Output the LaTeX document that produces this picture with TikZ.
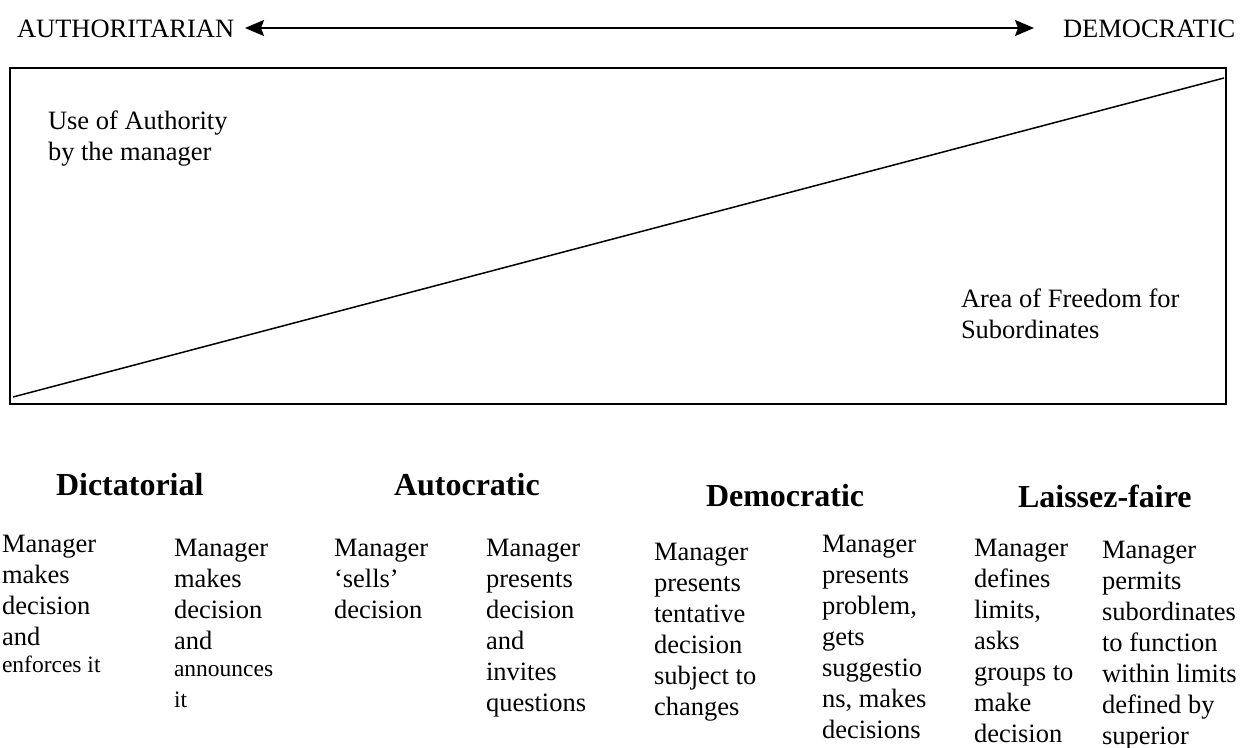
\documentclass[tikz,border=0pt]{standalone}
\usepackage{fontspec}
\setmainfont{Liberation Serif}
\usetikzlibrary{arrows.meta}
\tikzset{
  txt/.style={inner sep=0pt, outer sep=0pt, align=left, anchor=north west, font=\fontsize{26.5}{31}\selectfont},
  head/.style={inner sep=0pt, outer sep=0pt, anchor=base west, font=\fontsize{32}{38}\selectfont\bfseries},
  lbl/.style={inner sep=0pt, outer sep=0pt, anchor=base west, font=\fontsize{26.5}{31}\selectfont},
  frame/.style={draw=black, line width=1.5pt},
  dbl/.style={line width=2pt, {Stealth[length=19pt,width=16pt,inset=3pt]}-{Stealth[length=19pt,width=16pt,inset=3pt]}}
}
\newcommand{\smalltxt}{\fontsize{23.5}{27}\selectfont}
\begin{document}
\begin{tikzpicture}[x=1pt,y=-1pt]
\useasboundingbox (0,0) rectangle (1249,747);
% top scale
\node[lbl] (auth) at (17,37) {AUTHORITARIAN};
\node[lbl] (demo) at (1063,37) {DEMOCRATIC};
\coordinate (al) at (245,28);
\coordinate (ar) at (1034,28);
\draw[dbl] (al) -- (ar);
% box
\coordinate (b1) at (10,68);
\coordinate (b2) at (1226,404);
\draw[frame] (b1) rectangle (b2);
\coordinate (d1) at (13,397);
\coordinate (d2) at (1224,78);
\draw[line width=1.5pt] (d1) -- (d2);
\node[txt] (use) at (48,128-17.4) {Use of Authority\\by the manager};
\node[txt] (area) at (961,306-17.4) {Area of Freedom for\\Subordinates};
% headings
\node[head] (h1) at (56,495) {Dictatorial};
\node[head] (h2) at (394,495) {Autocratic};
\node[head] (h3) at (706,506) {Democratic};
\node[head] (h4) at (1018,507) {Laissez-faire};
% columns
\node[txt] (c1) at (2,553-17.4) {Manager\\makes\\decision\\and\\[-4pt]{\smalltxt enforces it}};
\node[txt] (c2) at (174,557-17.4) {Manager\\makes\\decision\\and\\[-4pt]{\smalltxt announces}\\{\smalltxt it}};
\node[txt] (c3) at (334,557-17.4) {Manager\\‘sells’\\decision};
\node[txt] (c4) at (486,557-17.4) {Manager\\presents\\decision\\and\\invites\\questions};
\node[txt] (c5) at (654,561-17.4) {Manager\\presents\\tentative\\decision\\subject to\\changes};
\node[txt] (c6) at (822,553-17.4) {Manager\\presents\\problem,\\gets\\suggestio\\ns, makes\\decisions};
\node[txt] (c7) at (974,557-17.4) {Manager\\defines\\limits,\\asks\\groups to\\make\\decision};
\node[txt] (c8) at (1102,559-17.4) {Manager\\permits\\subordinates\\to function\\within limits\\defined by\\superior};
\end{tikzpicture}
\end{document}
